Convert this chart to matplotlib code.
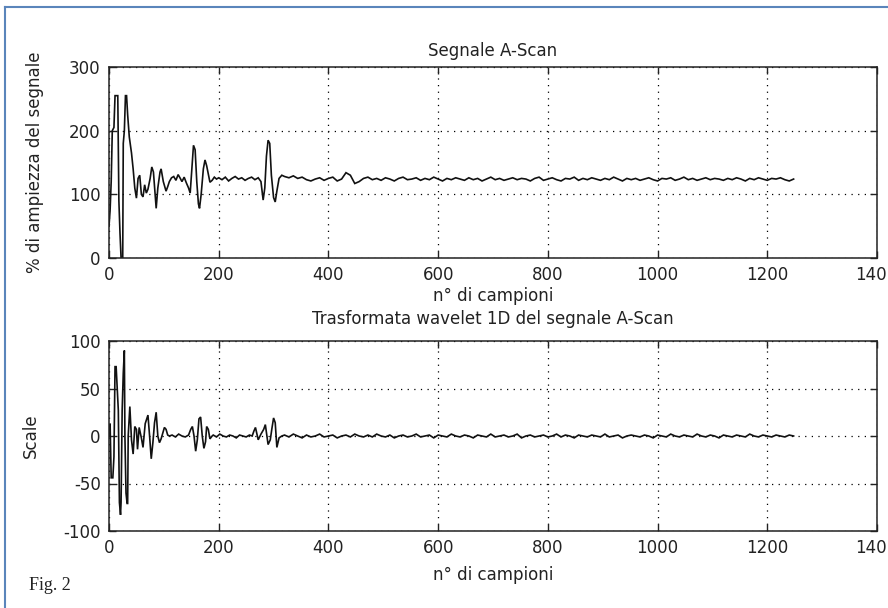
import numpy as np
import matplotlib
matplotlib.use("Agg")
import matplotlib.pyplot as plt
from matplotlib.lines import Line2D
from matplotlib.transforms import ScaledTranslation

# ---------------- data ----------------
top_head_x = [0, 2, 4, 6, 9, 11, 16, 18, 20, 22, 25, 26, 28, 30, 32, 34, 37, 41, 44, 47,
              50, 53, 56, 59, 62, 65, 68, 71, 75, 78, 81, 84, 86, 89, 93, 95, 99, 104, 107, 110,
              114, 118, 122, 126, 130, 133, 137, 141, 145, 148, 151, 154, 157, 160, 163, 165, 168, 172, 175, 178,
              181, 184, 188, 192, 196, 200, 206, 212, 218, 224, 230, 236, 242, 248, 254, 260, 266, 272, 277, 281,
              284, 287, 290, 293, 296, 300, 303, 306, 310, 315]
top_head_y = [50, 75, 120, 200, 205, 255, 255, 90, 40, 0, 0, 180, 200, 255, 255, 225, 190, 165, 140, 110,
              94, 125, 130, 100, 96, 115, 102, 108, 125, 143, 135, 100, 78, 110, 135, 140, 120, 105, 112, 120,
              126, 128, 122, 131, 125, 120, 127, 118, 110, 102, 140, 177, 170, 120, 85, 78, 100, 140, 154, 145,
              132, 119, 122, 127, 124, 126, 123, 127, 121, 125, 128, 124, 126, 122, 125, 127, 123, 126, 120, 91,
              110, 160, 185, 180, 130, 95, 88, 105, 125, 130]
top_tail_start, top_tail_step = 320, 8
top_tail_y = [128, 126, 129, 125, 127, 123, 121, 124, 126, 122,
              125, 127, 121, 124, 134, 130, 117, 120, 125, 127,
              123, 125, 122, 126, 124, 121, 125, 127, 123, 124,
              126, 122, 125, 123, 127, 124, 121, 125, 123, 126,
              124, 122, 126, 123, 125, 121, 124, 127, 123, 125,
              122, 124, 126, 123, 125, 124, 121, 125, 127, 122,
              124, 126, 123, 121, 125, 124, 127, 122, 125, 123,
              126, 124, 122, 125, 123, 127, 124, 121, 125, 123,
              125, 122, 124, 126, 123, 121, 125, 124, 126, 122,
              124, 127, 123, 125, 122, 124, 126, 123, 125, 124,
              122, 125, 123, 126, 124, 121, 125, 123, 126, 124,
              122, 125, 124, 126, 123, 121, 124]

bot_head_x = [0, 2, 4, 7, 9, 11, 13, 17, 19, 21, 22, 24, 26, 28, 29, 31, 33, 34, 35, 38,
              41, 44, 47, 50, 52, 55, 59, 62, 66, 71, 74, 77, 80, 83, 86, 89, 92, 95, 101, 104,
              107, 110, 115, 121, 127, 133, 139, 145, 149, 152, 155, 158, 161, 164, 167, 170, 173, 176, 178, 181,
              184, 188, 190, 196, 202, 208, 214, 220, 226, 232, 238, 244, 250, 256, 261, 264, 267, 272, 277, 282,
              285, 290, 294, 297, 300, 303, 306, 310, 315]
bot_head_y = [0, 13, -44, -44, -22, 73, 73, 27, -70, -83, -70, 27, 66, 90, 0, -60, -71, -71, 0, 31,
              -4, -19, 10, 7, -14, 9, -2, -12, 13, 22, 0, -24, -7, 14, 25, 0, -7, -3, 9, 7,
              1, 0, 1, -1, 2, 0, -1, 1, 7, 10, 0, -16, -4, 18, 20, 0, -13, -6, 10, 7,
              -3, 0, 1, -1, 2, 0, -1, 1, 0, -2, 1, 0, -1, 1, 0, 5, 9, -4, 2, 7,
              12, -9, -4, 8, 19, 14, -12, -2, 0]
bot_tail_start, bot_tail_step = 320, 8
bot_tail_y = [1, -1, 2, 0, -2, 1, -1, 0, 2, -1,
              0, 1, -2, 0, 1, -1, 2, 0, -1, 1,
              -1, 2, 0, -1, 1, -2, 0, 1, -1, 0,
              2, -1, 0, 1, -2, 1, 0, -1, 2, 0,
              -1, 1, 0, -2, 1, 0, -1, 2, -1, 0,
              1, -1, 0, 2, -2, 0, 1, -1, 0, 1,
              -1, 0, 2, -1, 1, 0, -2, 1, 0, -1,
              1, 0, -1, 2, -1, 0, 1, -2, 0, 1,
              0, -1, 1, 0, -2, 1, 0, -1, 2, 0,
              -1, 1, 0, -1, 2, 0, -1, 1, 0, -2,
              1, 0, -1, 1, 0, -1, 2, 0, -1, 1,
              0, -1, 1, 0, -1, 1, 0]

x_ticks = [0, 200, 400, 600, 800, 1000, 1200, 1400]
# the last label is shown cut to "140" in the reference
x_ticklabels = ["0", "200", "400", "600", "800", "1000", "1200", "140"]
top_yticks = [0, 100, 200, 300]
bot_yticks = [-100, -50, 0, 50, 100]

title_top = "Segnale A-Scan"
title_bot = "Trasformata wavelet 1D del segnale A-Scan"
xlabel = "n° di campioni"
ylabel_top = "% di ampiezza del segnale"
ylabel_bot = "Scale"
caption = "Fig. 2"

# ---------------- build series ----------------
top_x = top_head_x + [top_tail_start + top_tail_step * i for i in range(len(top_tail_y))]
top_y = top_head_y + top_tail_y
bot_x = bot_head_x + [bot_tail_start + bot_tail_step * i for i in range(len(bot_tail_y))]
bot_y = bot_head_y + bot_tail_y

plt.rcParams['font.family'] = ['DejaVu Sans']
plt.rcParams['axes.unicode_minus'] = False
W, H = 888, 608
fig = plt.figure(figsize=(W / 100, H / 100), dpi=100)
fig.patch.set_facecolor('white')

def box(l, t, r, b):
    return [l / W, 1 - b / H, (r - l) / W, (b - t) / H]

ax1 = fig.add_axes(box(109, 67, 877, 258))
ax2 = fig.add_axes(box(109, 341, 877, 531))

txt = '#222222'
for ax, xs, ys, yl, yt, tt, yl_text, tpad, xlpad, ylx in [
        (ax1, top_x, top_y, (0, 300), top_yticks, title_top, ylabel_top, 8, 2, 44),
        (ax2, bot_x, bot_y, (-100, 100), bot_yticks, title_bot, ylabel_bot, 12, 6, 40)]:
    ax.plot(xs, ys, color='#111111', lw=1.2, solid_joinstyle='miter')
    ax.set_xlim(0, 1400)
    ax.set_ylim(*yl)
    ax.set_xticks(x_ticks)
    ax.set_xticklabels(x_ticklabels)
    ax.set_yticks(yt)
    ax.grid(True, color='black', linestyle=(0, (1, 4.3)), lw=0.9)
    ax.tick_params(direction='in', top=True, right=True, length=5, width=1,
                   labelsize=12, pad=6, colors=txt)
    for s in ax.spines.values():
        s.set_linewidth(1.1)
        s.set_color(txt)
    ax.set_title(tt, fontsize=12, pad=tpad, color=txt)
    ax.set_xlabel(xlabel, fontsize=12, labelpad=xlpad, color=txt)
    ax.set_ylabel(yl_text, fontsize=12, color=txt)
    ax.yaxis.set_label_coords(ylx / W, ax.get_position().y0 + ax.get_position().height / 2,
                              transform=fig.transFigure)
    # shift the clipped last label slightly left, as in the reference
    last = ax.get_xticklabels()[-1]
    last.set_transform(last.get_transform() + ScaledTranslation(-6 / 100, 0, fig.dpi_scale_trans))

# page frame (blue) and caption
blue = '#5a85bb'
fig.add_artist(Line2D([5 / W, 1.0], [1 - 7 / H, 1 - 7 / H], color=blue, lw=1.5,
                      transform=fig.transFigure))
fig.add_artist(Line2D([5 / W, 5 / W], [0, 1 - 7 / H], color=blue, lw=1.5,
                      transform=fig.transFigure))
fig.text(29 / W, 1 - 585 / H, caption, family='Liberation Serif', fontsize=13,
         va='center', ha='left', color=txt)

fig.savefig("out.png", dpi=100)
